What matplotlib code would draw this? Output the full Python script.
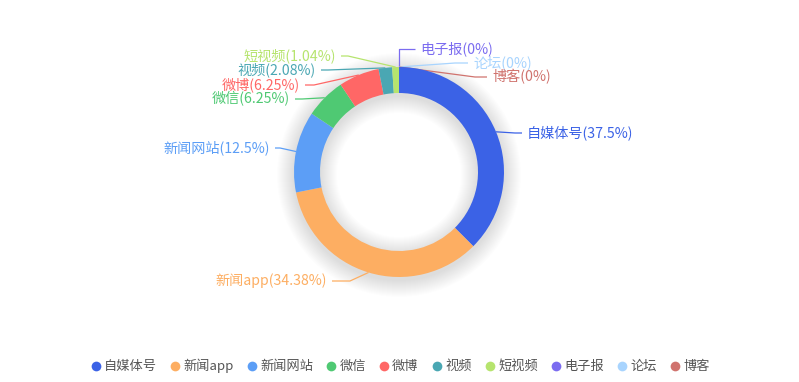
import numpy as np
import matplotlib
matplotlib.use("Agg")
import matplotlib.pyplot as plt
from matplotlib.patches import Wedge
from matplotlib.lines import Line2D

plt.rcParams['font.family'] = ['Noto Sans CJK SC', 'DejaVu Sans']

categories = ['自媒体号', '新闻app', '新闻网站', '微信', '微博', '视频', '短视频', '电子报', '论坛', '博客']
values = [36, 33, 12, 6, 6, 2, 1, 0, 0, 0]
pct_labels = ['37.5%', '34.38%', '12.5%', '6.25%', '6.25%', '2.08%', '1.04%', '0%', '0%', '0%']
colors = ['#3B62E6', '#FDAE62', '#5C9EF6', '#4FC973', '#FF6766', '#4AA7B3',
          '#B6E46E', '#7B6CF0', '#A8D4FE', '#D0736E']

W, H = 799, 382
fig = plt.figure(figsize=(W / 100, H / 100), dpi=100)
ax = fig.add_axes([0, 0, 1, 1])

cx, cy = 399, H - 172
r_out, ring = 105, 26
r_in = r_out - ring

# soft shadow
for k in range(1, 18):
    ax.add_patch(Wedge((cx, cy - 3), r_out + k, 0, 360, width=ring + 2 * k,
                       facecolor='black', alpha=0.0065, linewidth=0, zorder=1))

wedges, _ = ax.pie(values, colors=colors, startangle=90, counterclock=False,
                   radius=r_out, center=(cx, cy), frame=True,
                   wedgeprops=dict(width=ring, linewidth=0))
for w in wedges:
    w.set_zorder(3)
ax.set_xlim(0, W)
ax.set_ylim(0, H)
ax.set_aspect('equal')
ax.axis('off')

# label layout (pixel positions: elbow point, text anchor, alignment)
layout = [
    ((515, 133), (527, 133), 'left'),
    ((350, 281), (327, 281), 'right'),
    ((280, 148), (270, 148), 'right'),
    ((302, 99), (290, 99), 'right'),
    ((314, 85), (300, 85), 'right'),
    ((328, 70), (316, 70), 'right'),
    ((348, 56), (336, 56), 'right'),
    ((399, 49), (420, 49), 'left'),
    ((455, 63), (473, 63), 'left'),
    ((475, 77), (492, 77), 'left'),
]

total = sum(values)
ang = 90.0
for i, (cat, v) in enumerate(zip(categories, values)):
    span = 360.0 * v / total
    mid = np.deg2rad(ang - span / 2)
    ang -= span
    sx = cx + r_out * np.cos(mid)
    sy = cy + r_out * np.sin(mid)
    (ex, ey), (tx, ty), ha = layout[i]
    ey = H - ey
    ty = H - ty
    endx = tx - 5 if ha == 'left' else tx + 5
    ax.plot([sx, ex, endx], [sy, ey, ty], color=colors[i], lw=0.9, zorder=2,
            solid_capstyle='butt')
    ax.text(tx, ty, f'{cat}({pct_labels[i]})', color=colors[i], fontsize=10.2,
            ha=ha, va='center', zorder=5)

handles = [Line2D([], [], marker='o', linestyle='', markersize=7,
                  markerfacecolor=c, markeredgewidth=0) for c in colors]
fig.legend(handles, categories, loc='center', bbox_to_anchor=(0.5, 1 - 366 / H),
           ncol=len(categories), frameon=False, fontsize=9.5, handletextpad=0.1,
           columnspacing=0.9, labelcolor='#555555', handlelength=1.0)

fig.savefig('out.png', dpi=100)
